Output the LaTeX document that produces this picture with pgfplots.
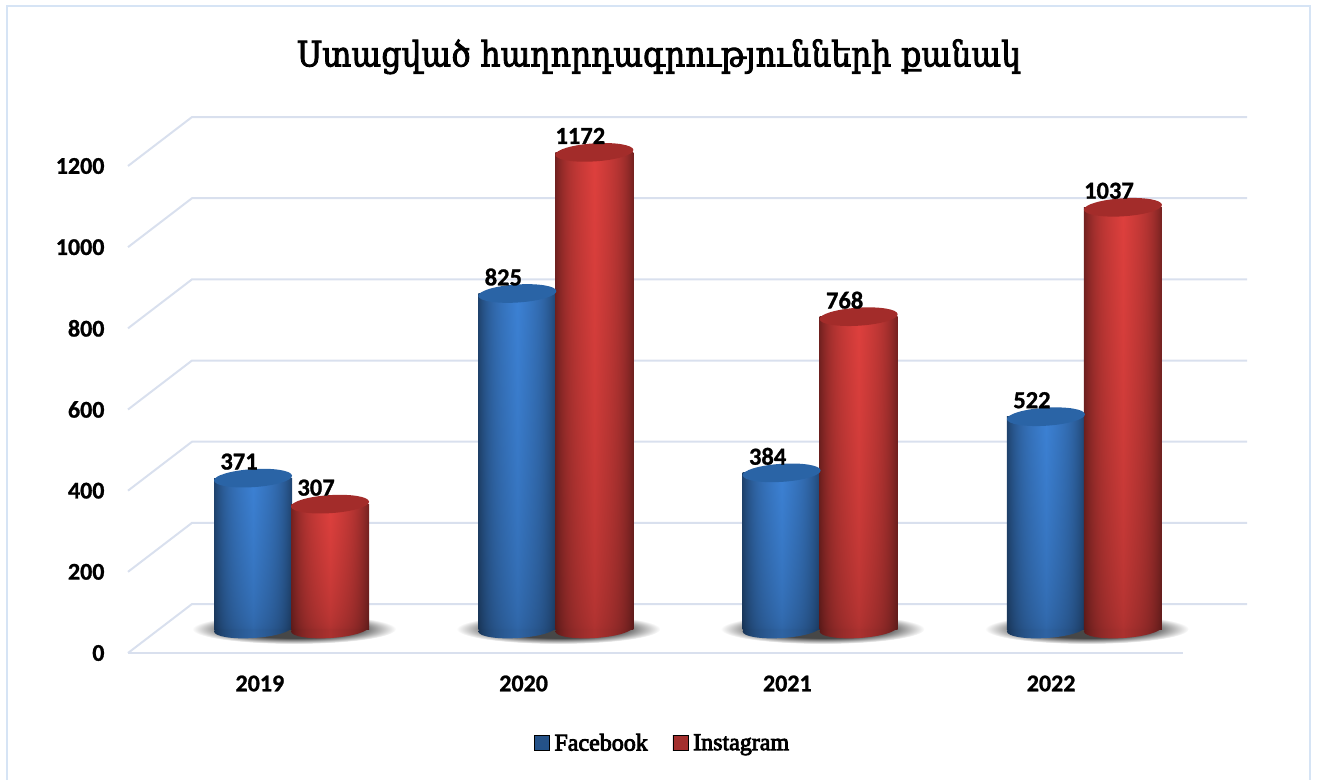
\documentclass[border=0pt]{standalone}
\usepackage{fontspec}
\usepackage{pgfplots}
\pgfplotsset{compat=1.18}
\setmainfont[BoldFeatures={FakeBold=1}]{Carlito}
\newfontfamily\armfont[FakeStretch=0.9,FakeBold=2.5]{DejaVu Serif}
\newfontfamily\legfont[FakeBold=3.5]{Liberation Serif}

\definecolor{gridc}{HTML}{D9E0EE}
\definecolor{framec}{HTML}{D6E4F5}
\definecolor{fbcap}{HTML}{2A64A6}
\definecolor{igcap}{HTML}{A32C2A}

% body of the cylinders: colour depends on both x and y of the bar
% (a path's box is fitted to the inner -25..25 of the shading)
\pgfdeclarefunctionalshading{fbbody}{\pgfpoint{-50bp}{-50bp}}{\pgfpoint{50bp}{50bp}}{}{
  25 add abs 50 div sqrt 0.23 mul 0.77 add exch 25 div abs dup 0.27 mul exch dup mul dup mul 0.21 mul add 1 exch sub mul
  dup 0.235 mul exch dup 0.505 mul exch 0.83 mul }
\pgfdeclarefunctionalshading{igbody}{\pgfpoint{-50bp}{-50bp}}{\pgfpoint{50bp}{50bp}}{}{
  25 add abs 50 div sqrt 0.23 mul 0.77 add exch 25 div abs dup 0.27 mul exch dup mul dup mul 0.21 mul add 1 exch sub mul
  dup 0.87 mul exch dup 0.25 mul exch 0.24 mul }
% the same colours at the foot of the bar
\pgfdeclarefunctionalshading{fbfoot}{\pgfpoint{-50bp}{-50bp}}{\pgfpoint{50bp}{50bp}}{}{
  pop 25 div abs dup 0.27 mul exch dup mul dup mul 0.21 mul add 1 exch sub 0.77 mul
  dup 0.235 mul exch dup 0.505 mul exch 0.83 mul }
\pgfdeclarefunctionalshading{igfoot}{\pgfpoint{-50bp}{-50bp}}{\pgfpoint{50bp}{50bp}}{}{
  pop 25 div abs dup 0.27 mul exch dup mul dup mul 0.21 mul add 1 exch sub 0.77 mul
  dup 0.87 mul exch dup 0.25 mul exch 0.24 mul }
\pgfdeclareradialshading{floorshadow}{\pgfpointorigin}{
  color(0bp)=(black!72); color(15bp)=(black!72); color(25bp)=(white); color(50bp)=(white)}

\pgfdeclareplotmark{fbtop}{\pgfpathellipse{\pgfpointorigin}{\pgfqpoint{39pt}{2.5pt}}{\pgfqpoint{-0.6pt}{9pt}}%
  \pgfsetfillcolor{fbcap}\pgfusepathqfill}
\pgfdeclareplotmark{igtop}{\pgfpathellipse{\pgfpointorigin}{\pgfqpoint{39pt}{2.5pt}}{\pgfqpoint{-0.6pt}{9pt}}%
  \pgfsetfillcolor{igcap}\pgfusepathqfill}
\pgfdeclareplotmark{fbbase}{\pgfpathellipse{\pgfpointorigin}{\pgfqpoint{39pt}{2.5pt}}{\pgfqpoint{-0.6pt}{9pt}}%
  \pgfshadepath{fbfoot}{0}\pgfusepath{discard}}
\pgfdeclareplotmark{igbase}{\pgfpathellipse{\pgfpointorigin}{\pgfqpoint{39pt}{2.5pt}}{\pgfqpoint{-0.6pt}{9pt}}%
  \pgfshadepath{igfoot}{0}\pgfusepath{discard}}
\pgfdeclareplotmark{shadowmark}{\pgfpathellipse{\pgfpointorigin}{\pgfqpoint{102pt}{0pt}}{\pgfqpoint{0pt}{15pt}}%
  \pgfshadepath{floorshadow}{0}\pgfusepath{discard}}

\newcommand{\cylinder}[4]{% category, value, shift, series
  \addplot[forget plot, ybar, bar width=78pt, bar shift=0pt, xshift=#3, draw=none, shade, shading=#4body] coordinates {(#1,#2)};
  \addplot[forget plot, only marks, xshift=#3, mark=#4top, nodes near coords,
    every node near coord/.append style={anchor=center, xshift=-14pt, yshift=16.5pt, text=black, font=\fontsize{24.5}{24.5}\selectfont\bfseries, inner sep=0pt}]
    coordinates {(#1,#2)};
}

\begin{document}
\begin{tikzpicture}
\path[use as bounding box] (0pt,0pt) rectangle (1317pt,780pt);
\draw[framec, line width=2.5pt] (7pt,0pt) -- (7pt,774pt) -- (1310pt,774pt) -- (1310pt,0pt);

% walls, floor and the tick labels
\begin{axis}[
  at={(128pt,127pt)}, anchor=south west,
  scale only axis, width=1055pt, height=487pt,
  xmin=-0.5, xmax=3.5, ymin=0, ymax=1200, clip=false,
  axis line style={draw=none}, tick style={draw=none},
  xtick={0,1,2,3}, xticklabels={2019,2020,2021,2022},
  ytick={0,200,400,600,800,1000,1200},
  /pgf/number format/assume math mode=true,
  /pgf/number format/1000 sep={},
  tick label style={font=\fontsize{24}{24}\selectfont\bfseries},
  yticklabel style={xshift=-20pt},
  xticklabel style={yshift=-19pt},
  title={\armfont\fontsize{35}{35}\selectfont Ստացված հաղորդագրությունների քանակ},
  title style={at={(0.5033,1.212)}, anchor=center},
]
\addplot[gridc, line width=2pt] coordinates {(-0.5,0) (3.5,0)};
\addplot[gridc, line width=2pt] coordinates {(-0.5,0) (-0.2573,120.7) (3.7427,120.7)};
\addplot[gridc, line width=2pt] coordinates {(-0.5,200) (-0.2573,320.7) (3.7427,320.7)};
\addplot[gridc, line width=2pt] coordinates {(-0.5,400) (-0.2573,520.7) (3.7427,520.7)};
\addplot[gridc, line width=2pt] coordinates {(-0.5,600) (-0.2573,720.7) (3.7427,720.7)};
\addplot[gridc, line width=2pt] coordinates {(-0.5,800) (-0.2573,920.7) (3.7427,920.7)};
\addplot[gridc, line width=2pt] coordinates {(-0.5,1000) (-0.2573,1120.7) (3.7427,1120.7)};
\addplot[gridc, line width=2pt] coordinates {(-0.5,1200) (-0.2573,1320.7) (3.7427,1320.7)};
\end{axis}

% floor shadows and feet of the cylinders: marks come after all paths of an
% axis, so these need an axis of their own below the bars
\begin{axis}[
  at={(159.4pt,151pt)}, anchor=south west,
  scale only axis, width=1057.2pt, height=488pt,
  xmin=-0.5, xmax=3.5, ymin=0, ymax=1200, clip=false,
  axis lines=none,
]
\addplot[only marks, mark=shadowmark, xshift=2.5pt] coordinates {(0,0) (1,0) (2,0) (3,0)};
\addplot[only marks, mark=fbbase, xshift=-38.5pt] coordinates {(0,0) (1,0) (2,0) (3,0)};
\addplot[only marks, mark=igbase, xshift=38.5pt] coordinates {(0,0) (1,0) (2,0) (3,0)};
\end{axis}

% the cylinders, set back on the floor
\begin{axis}[
  at={(159.4pt,151pt)}, anchor=south west,
  scale only axis, width=1057.2pt, height=488pt,
  xmin=-0.5, xmax=3.5, ymin=0, ymax=1200, clip=false,
  axis lines=none,
  /pgf/number format/assume math mode=true,
  /pgf/number format/1000 sep={},
  legend style={at={(0.476,-0.2336)}, anchor=center, draw=none, fill=none,
    legend columns=2, font=\legfont\fontsize{24}{24}\selectfont,
    /tikz/column 1/.style={column sep=3pt},
    /tikz/column 2/.style={column sep=23pt},
    /tikz/column 3/.style={column sep=3pt}},
]
\cylinder{0}{371}{-38.5pt}{fb}
\cylinder{1}{825}{-38.5pt}{fb}
\cylinder{2}{384}{-38.5pt}{fb}
\cylinder{3}{522}{-38.5pt}{fb}
\cylinder{0}{307}{38.5pt}{ig}
\cylinder{1}{1172}{38.5pt}{ig}
\cylinder{2}{768}{38.5pt}{ig}
\cylinder{3}{1037}{38.5pt}{ig}

\addlegendimage{legend image code/.code={\path[top color={rgb:red,58;green,125;blue,208}, bottom color={rgb:red,38;green,90;blue,150}] (0pt,-7.5pt) rectangle (15pt,7.5pt);}}
\addlegendentry{Facebook}
\addlegendimage{legend image code/.code={\path[top color={rgb:red,214;green,62;blue,60}, bottom color={rgb:red,160;green,44;blue,44}] (0pt,-7.5pt) rectangle (15pt,7.5pt);}}
\addlegendentry{Instagram}
\end{axis}
\end{tikzpicture}
\end{document}
